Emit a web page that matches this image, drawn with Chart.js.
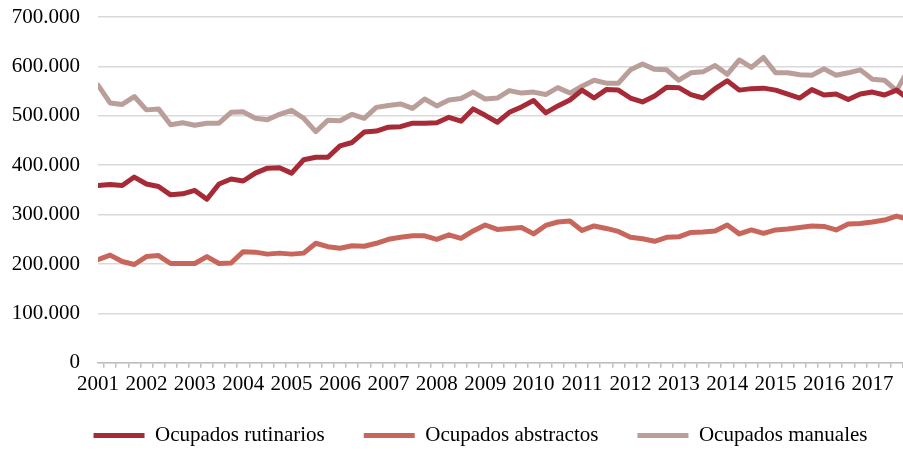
<!DOCTYPE html>
<html lang="es">
<head>
<meta charset="utf-8">
<title>Ocupados rutinarios, abstractos y manuales, 2001-2017</title>
<script src="https://cdn.jsdelivr.net/npm/chart.js@4"></script>
<style>
  html, body { margin: 0; padding: 0; background: #ffffff; overflow: hidden; }
  #wrap { position: absolute; left: 0; top: 0; width: 949px; height: 471px; }
</style>
</head>
<body>
<div id="wrap"><canvas id="chart"></canvas></div>
<script>
// Quarterly series, 2001 T1 - 2017 T4 (persons employed)
const years = ['2001','2002','2003','2004','2005','2006','2007','2008','2009',
               '2010','2011','2012','2013','2014','2015','2016','2017'];
const quarterNames = ['T1','T2','T3','T4'];
const quarters = years.flatMap(y => quarterNames.map(q => y + ' ' + q));

const rutinarios = [
  359000, 361000, 359000, 376000, 362000, 357000, 340000, 342000,
  349000, 331000, 362000, 372000, 368000, 384000, 394000, 395000,
  384000, 411000, 416000, 416000, 439000, 446000, 467000, 469000,
  477000, 478000, 485000, 485000, 486000, 497000, 489000, 514000,
  501000, 487000, 507000, 518000, 531000, 506000, 520000, 532000,
  552000, 536000, 553000, 552000, 536000, 528000, 540000, 558000,
  557000, 543000, 536000, 555000, 571000, 552000, 555000, 556000,
  552000, 544000, 536000, 553000, 542000, 544000, 533000, 544000,
  548000, 542000, 552000, 534000
];
const abstractos = [
  209000, 218000, 205000, 199000, 215000, 217000, 201000, 201000,
  201000, 215000, 201000, 202000, 225000, 224000, 220000, 222000,
  220000, 222000, 242000, 235000, 232000, 237000, 236000, 242000,
  250000, 254000, 257000, 257000, 250000, 259000, 252000, 267000,
  279000, 270000, 272000, 274000, 261000, 278000, 285000, 287000,
  268000, 277000, 272000, 266000, 254000, 251000, 246000, 254000,
  255000, 264000, 265000, 267000, 279000, 261000, 269000, 262000,
  269000, 271000, 274000, 277000, 276000, 269000, 281000, 282000,
  285000, 289000, 297000, 290000
];
const manuales = [
  562000, 526000, 523000, 539000, 512000, 514000, 482000, 486000,
  481000, 485000, 485000, 507000, 508000, 495000, 492000, 503000,
  511000, 495000, 468000, 491000, 490000, 503000, 495000, 517000,
  521000, 524000, 515000, 534000, 520000, 532000, 535000, 548000,
  534000, 536000, 551000, 546000, 548000, 543000, 557000, 546000,
  560000, 572000, 566000, 566000, 593000, 605000, 594000, 593000,
  572000, 587000, 589000, 602000, 584000, 613000, 598000, 618000,
  587000, 587000, 583000, 582000, 595000, 582000, 587000, 593000,
  574000, 572000, 551000, 595000
];

const yTickValues = [0, 100000, 200000, 300000, 400000, 500000, 600000, 700000];
const yTickLabels = ['0', '100.000', '200.000', '300.000', '400.000', '500.000', '600.000', '700.000'];

const seriesNames = ['Ocupados rutinarios', 'Ocupados abstractos', 'Ocupados manuales'];
const seriesColors = ['#a62b36', '#c9665c', '#b99e99'];

// Points are placed by quarter index on a linear axis; one year = 4 units.
const toPoints = values => values.map((v, i) => ({ x: i, y: v, q: quarters[i] }));

const serif = 'Liberation Serif, Times New Roman, serif';
const gridGrey = '#d9d9d9';
const axisGrey = '#bfbfbf';

// Moves the legend row a little closer to the axis labels.
const legendOffset = {
  id: 'legendOffset',
  afterLayout(chart) {
    const lg = chart.legend;
    if (lg) { lg.top -= 15; lg.bottom -= 15; }
  }
};

new Chart(document.getElementById('chart'), {
  type: 'line',
  data: {
    datasets: [rutinarios, abstractos, manuales].map((vals, k) => ({
      label: seriesNames[k],
      data: toPoints(vals),
      borderColor: seriesColors[k],
      backgroundColor: seriesColors[k],
      borderWidth: 5,
      borderCapStyle: 'round',
      borderJoinStyle: 'round',
      pointRadius: 0,
      pointHoverRadius: 0,
      tension: 0,
      fill: false
    }))
  },
  options: {
    responsive: true,
    maintainAspectRatio: false,
    animation: false,
    devicePixelRatio: 1,
    layout: { padding: { top: 0, left: 12, right: 0, bottom: 0 } },
    plugins: {
      tooltip: { enabled: false },
      legend: {
        display: true,
        position: 'bottom',
        align: 'center',
        labels: {
          usePointStyle: true,
          pointStyle: 'line',
          pointStyleWidth: 51,
          padding: 39,
          color: '#000000',
          font: { family: serif, size: 21 }
        }
      }
    },
    scales: {
      x: {
        type: 'linear',
        min: 0,
        max: 70,
        border: { display: true, color: axisGrey, width: 1.5 },
        grid: {
          drawOnChartArea: false,
          drawTicks: true,
          tickLength: 5,
          lineWidth: 1.5,
          tickColor: ctx => (ctx.tick && ctx.tick.value % 1 !== 0) ? axisGrey : 'rgba(0,0,0,0)'
        },
        ticks: {
          stepSize: 0.5,
          autoSkip: false,
          maxRotation: 0,
          minRotation: 0,
          padding: 4,
          color: '#000000',
          font: { family: serif, size: 21 },
          callback: value => (Number.isInteger(value) && value % 4 === 0 && years[value / 4]) ? years[value / 4] : ''
        }
      },
      y: {
        min: 0,
        max: 700000,
        border: { display: false },
        grid: {
          color: gridGrey,
          lineWidth: 1.5,
          drawTicks: false
        },
        afterBuildTicks: scale => { scale.ticks = yTickValues.map(v => ({ value: v })); },
        afterFit: scale => {
          scale.width = 86;
          scale.paddingTop = 17;
          scale.paddingBottom = 17;
        },
        ticks: {
          padding: 18,
          color: '#000000',
          font: { family: serif, size: 21 },
          callback: value => yTickLabels[yTickValues.indexOf(value)]
        }
      }
    }
  },
  plugins: [legendOffset]
});
</script>
</body>
</html>
